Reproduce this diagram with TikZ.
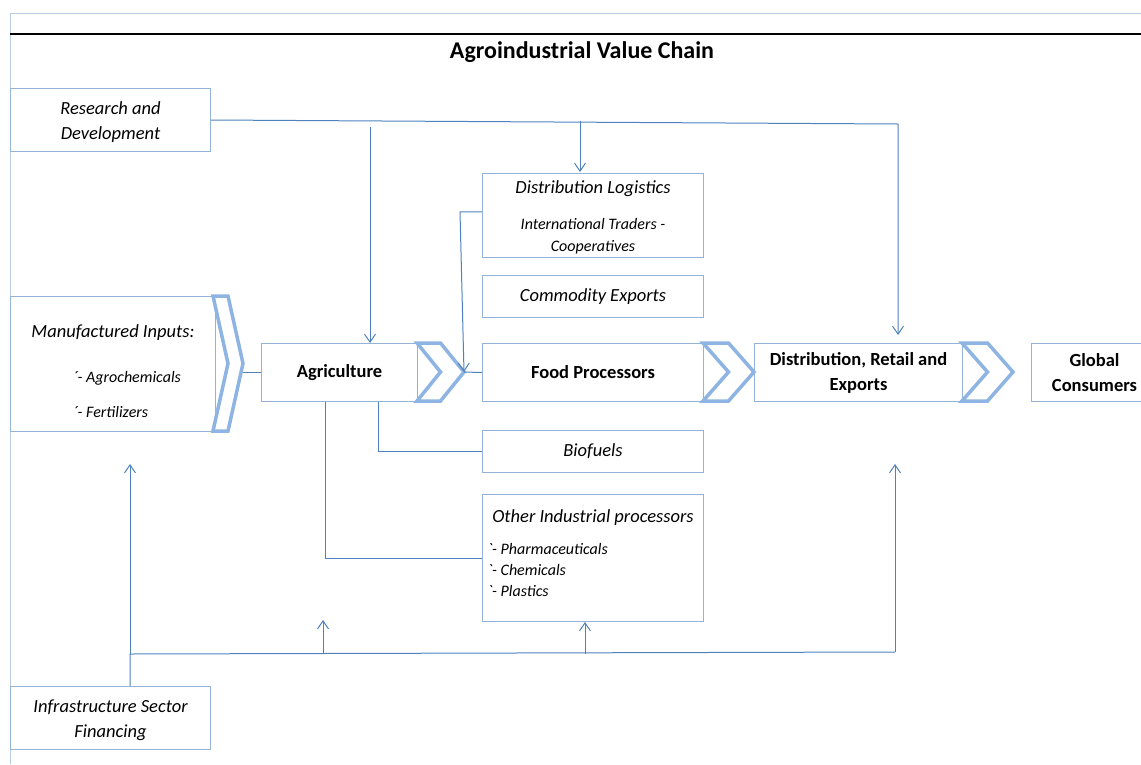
\documentclass[tikz,border=0pt]{standalone}
\usepackage{fontspec}
\setmainfont{Carlito}
\usepackage{tikz}
\usetikzlibrary{positioning,calc,arrows.meta}
\definecolor{linkblue}{HTML}{4F81BD}
\definecolor{boxblue}{HTML}{95B3D7}
\definecolor{chevblue}{HTML}{8DB4E2}
\definecolor{gridblue}{HTML}{B8CCE4}
% left, top, bottom, half width, name of the tip
\newcommand*{\chevron}[5]{%
  \draw[chev] (#1,#2) -- ({#1+#4},#2) -- ({#1+2*#4},{(#2+#3)/2}) -- ({#1+#4},#3)
    -- (#1,#3) -- ({#1+#4},{(#2+#3)/2}) -- cycle;
  \coordinate (#5) at ({#1+2*#4},{(#2+#3)/2});}
\newcommand*{\itemtick}{\textasciigrave- }
\newcommand*{\smalltext}{\fontsize{16}{25}\selectfont}

\begin{document}
\begin{tikzpicture}[x=1pt,y=-1pt,>={Straight Barb[length=8pt,width=11pt]},
    box/.style={draw=boxblue,line width=1pt,anchor=north west,inner sep=3pt,
      align=center,font=\fontsize{18.5}{25}\selectfont\itshape},
    stage/.style={box,font=\fontsize{18.5}{25}\selectfont\bfseries},
    link/.style={draw=linkblue,line width=1pt},
    chev/.style={draw=chevblue,fill=white,line width=3.5pt,line join=miter}]
    \useasboundingbox (0,0) rectangle (1141,764);
    % sheet frame and title
    \draw[gridblue,line width=1pt] (10,764) -- (10,13) -- (1141,13);
    \draw[line width=2.5pt] (10,34) -- (1141,34);
    \node[font=\fontsize{24}{28}\selectfont\bfseries] (title) at (582,52) {Agroindustrial Value Chain};

    % side boxes
    \node[box,minimum width=200pt,minimum height=63pt] (rd) at (10,88) {\rule{0pt}{17pt}Research and\\Development};
    \node[box,minimum width=205pt,minimum height=135pt] (mfg) at (10,296)
      {\makebox[190pt]{\rule{0pt}{27pt}Manufactured Inputs:}\\[20pt]
       \makebox[190pt][l]{\smalltext\hspace*{55pt}\textasciiacute- Agrochemicals}\\[10pt]
       \makebox[190pt][l]{\smalltext\hspace*{55pt}\textasciiacute- Fertilizers}};
    \node[box,minimum width=200pt,minimum height=63pt] (infra) at (10,686) {\rule{0pt}{17pt}Infrastructure Sector\\Financing};

    % main chain
    \node[stage,minimum width=156pt,minimum height=58pt] (agri) at (261,343) {Agriculture};
    \node[stage,minimum width=221pt,minimum height=58pt] (food) at (482,343) {Food Processors};
    \node[stage,minimum width=208pt,minimum height=58pt] (dist) at (754,343) {Distribution, Retail and\\Exports};
    \node[stage,minimum width=126pt,minimum height=58pt] (glob) at (1031,343) {Global\\Consumers};
    \chevron{213}{296}{431}{15}{mfgtip}
    \chevron{417}{343}{401}{23.5}{agritip}
    \chevron{703}{343}{401}{25.5}{foodtip}
    \chevron{962}{343}{401}{25.5}{disttip}

    % processors column
    \node[box,minimum width=221pt,minimum height=81pt] (dlog) at (482,173)
      {\rule{0pt}{17pt}Distribution Logistics\\[11pt]{\smalltext International Traders -}\\[-3pt]
       {\smalltext Cooperatives}};
    \node[box,minimum width=221pt,minimum height=42pt] (comm) at (482,275) {Commodity Exports};
    \node[box,minimum width=221pt,minimum height=42pt] (bio) at (482,430) {Biofuels};
    \node[box,minimum width=221pt,minimum height=127pt] (other) at (482,494)
      {\makebox[211pt]{Other Industrial processors}\\[7pt]
       \makebox[211pt][l]{\smalltext\itemtick Pharmaceuticals}\\[-4pt]
       \makebox[211pt][l]{\smalltext\itemtick Chemicals}\\[-4pt]
       \makebox[211pt][l]{\smalltext\itemtick Plastics\rule[-10pt]{0pt}{10pt}}};

    % research and development
    \coordinate (rdR) at (898,124);
    \coordinate (rdA) at (370,127);
    \coordinate (rdB) at (580,121);
    \draw[link,->,shorten >=8pt] (rd.east) -- (rdR) -- (rdR |- dist.north);
    \draw[link,->] (rdA) -- (rdA |- agri.north);
    \draw[link,->,shorten >=1pt] (rdB) -- (rdB |- dlog.north);

    % flows between boxes
    \draw[link,->] ([yshift=3.5pt]dlog.west) -- ++(-22,0) -- (agritip);
    \draw[link] (agritip) -- (food.west);
    \draw[link] (mfgtip |- agri.west) -- (agri.west);
    \draw[link] ([xshift=39pt]agri.south) |- (bio.west);
    \draw[link] ([xshift=-14pt]agri.south) |- (other.west);

    % infrastructure
    \coordinate (busL) at (130,654);
    \coordinate (busR) at (895,652);
    \coordinate (busA) at (323,654);
    \coordinate (busAtop) at (323,620);
    \coordinate (busB) at (585,654);
    \draw[link] (infra.north -| busL) -- (busL) -- (busR);
    \draw[link,->,shorten >=32pt] (busL) -- (busL |- mfg.south);
    \draw[link,->,shorten >=62pt] (busR) -- (busR |- dist.south);
    \draw[link,->] (busA) -- (busAtop);
    \draw[link,->] (busB) -- (busB |- other.south);
\end{tikzpicture}
\end{document}
